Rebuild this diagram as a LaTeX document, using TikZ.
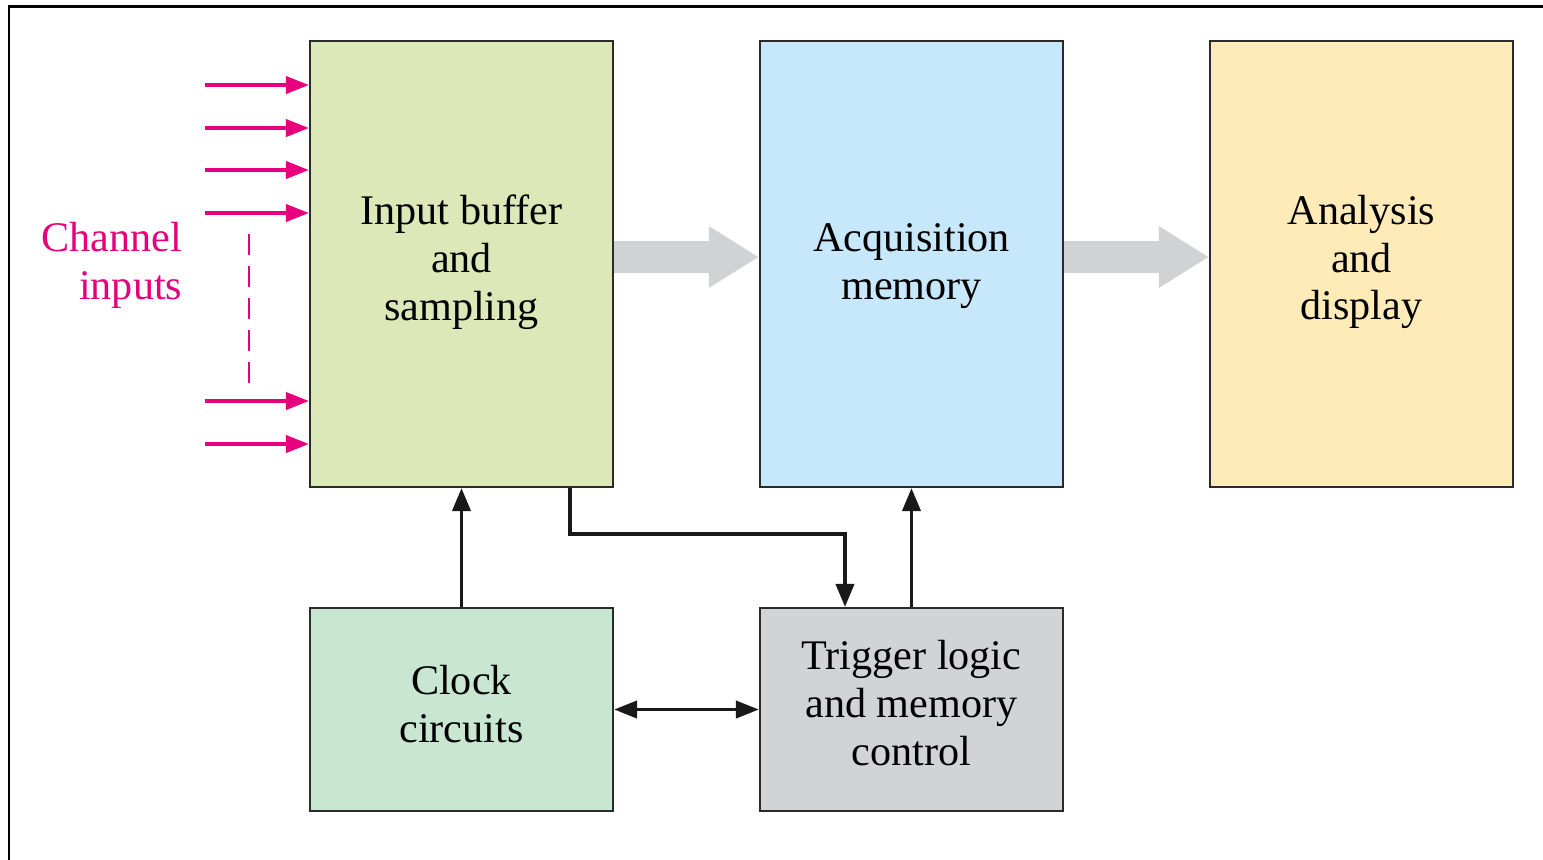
\documentclass[tikz,border=0pt]{standalone}
\usepackage{fontspec}
\setmainfont{Liberation Serif}
\usetikzlibrary{arrows.meta}

\definecolor{chanpink}{HTML}{E6007E}
\definecolor{bufgreen}{HTML}{DCE8B8}
\definecolor{acqblue}{HTML}{C6E8FA}
\definecolor{dispyellow}{HTML}{FEEBB8}
\definecolor{clkgreen}{HTML}{C9E6D3}
\definecolor{triggray}{HTML}{D2D3D5}
\definecolor{flowgray}{HTML}{D1D2D4}
\definecolor{edgegray}{HTML}{2B2B2B}

\tikzset{
  block/.style={draw=edgegray, line width=0.6pt, inner sep=0pt, minimum width=3.03cm},
  tallblock/.style={block, minimum height=4.46cm},
  lowblock/.style={block, minimum height=2.03cm},
  blocktext/.style={align=center, inner sep=0pt, font=\fontsize{12}{13.6}\selectfont},
  chan/.style={chanpink, line width=1.1pt, -{Triangle[length=0.23cm, width=0.17cm]}},
  ctrl/.style={black!90, line width=1.1pt, -{Triangle[length=0.23cm, width=0.18cm]}},
  flow/.style={flowgray, line width=0.32cm, -{Triangle[length=0.5cm, width=0.58cm]}}
}

\begin{document}
\begin{tikzpicture}
\useasboundingbox (0,0) rectangle (15.43,-8.59);
% frame
\draw[line width=0.85pt] (0.09,-8.8) -- (0.09,-0.06) -- (15.7,-0.06);

% blocks
\node[tallblock, fill=bufgreen] (buf) at (4.615,-2.64) {};
\node[tallblock, fill=acqblue] (acq) at (9.115,-2.64) {};
\node[tallblock, fill=dispyellow] (disp) at (13.615,-2.64) {};
\node[lowblock, fill=clkgreen] (clk) at (4.615,-7.095) {};
\node[lowblock, fill=triggray] (trig) at (9.115,-7.095) {};

% block labels
\node[blocktext] (buftext) at (4.615,-2.62) {Input buffer\\and\\sampling};
\node[blocktext] (acqtext) at (9.115,-2.66) {Acquisition\\memory};
\node[blocktext] (disptext) at (13.615,-2.62) {Analysis\\and\\display};
\node[blocktext] (clktext) at (4.615,-7.04) {Clock\\circuits};
\node[blocktext] (trigtext) at (9.115,-7.03) {Trigger logic\\and memory\\control};

% channel inputs
\foreach \y [count=\i] in {0.85,1.28,1.70,2.13,4.01,4.44} {
  \coordinate (ch\i) at (2.05,-\y);
  \draw[chan] (ch\i) -- (ch\i -| buf.west);
}
\coordinate (dashtop) at (2.49,-2.34);
\coordinate (dashbot) at (2.49,-3.83);
\draw[chanpink, line width=0.6pt, dash pattern=on 0.21cm off 0.11cm] (dashtop) -- (dashbot);
\node[blocktext, chanpink, align=right, anchor=east] (chlabel)
  at (1.83,-2.65) {Channel\\inputs};

% data flow
\draw[flow] (buf.east |- 0,-2.57) -- (acq.west |- 0,-2.57);
\draw[flow] (acq.east |- 0,-2.57) -- (disp.west |- 0,-2.57);

% control paths
\draw[ctrl] (clk.north) -- (buf.south);
\draw[ctrl] (trig.north) -- (acq.south);
\draw[ctrl] ([xshift=1.085cm]buf.south) -- ++(0,-0.46) -| ([xshift=-0.665cm]trig.north);
\draw[ctrl, {Triangle[length=0.23cm, width=0.17cm]}-{Triangle[length=0.23cm, width=0.17cm]}]
  (clk.east) -- (trig.west);
\end{tikzpicture}
\end{document}
